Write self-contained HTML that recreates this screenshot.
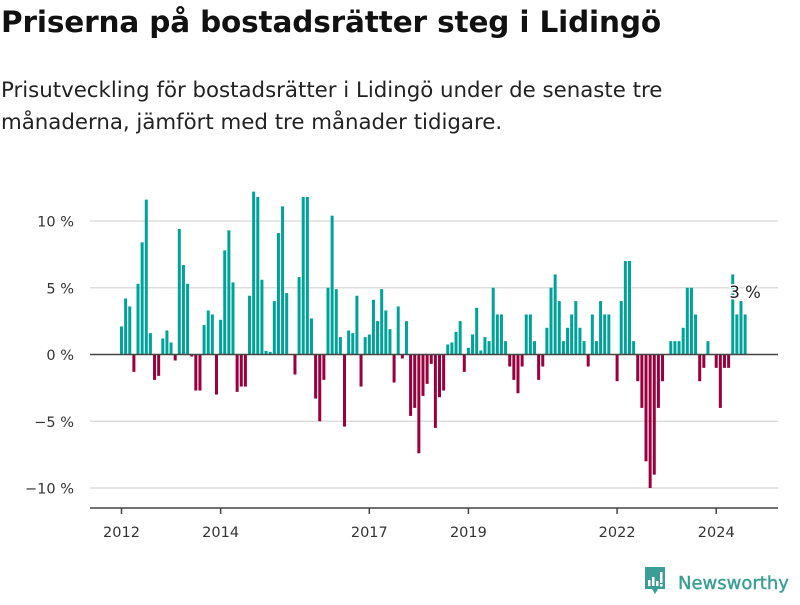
<!DOCTYPE html>
<html><head><meta charset="utf-8">
<style>
body{margin:0;background:#fff;font-family:"DejaVu Sans","Liberation Sans",sans-serif;}
#wrap{position:relative;width:800px;height:600px;overflow:hidden;}
h1{position:absolute;left:1px;top:5px;margin:0;font-size:29.5px;font-weight:bold;color:#111;letter-spacing:-0.15px;white-space:nowrap;}
p.sub{position:absolute;left:1px;top:75px;margin:0;font-size:21.3px;line-height:32px;color:#222;width:700px;}
svg{position:absolute;left:0;top:0;}
</style></head><body>
<div id="wrap">
<h1>Priserna på bostadsrätter steg i Lidingö</h1>
<p class="sub">Prisutveckling för bostadsrätter i Lidingö under de senaste tre månaderna, jämfört med tre månader tidigare.</p>
<svg id="chart" width="800" height="600"></svg>
</div>
<script>
const startYear = 2012;
const values = [2.1,4.2,3.6,-1.3,5.3,8.4,11.6,1.6,-1.9,-1.6,1.2,1.8,0.9,-0.45,9.4,6.7,5.3,-0.15,-2.7,-2.7,2.2,3.3,3.0,-3.0,2.6,7.8,9.3,5.4,-2.8,-2.4,-2.4,4.4,12.2,11.8,5.6,0.27,0.2,4.0,
9.1,11.1,4.6,0,-1.5,5.8,11.8,11.8,2.7,-3.3,-5.0,-1.9,5.0,10.4,4.9,1.3,-5.4,1.8,1.6,4.4,-2.4,1.3,1.5,4.1,2.5,4.9,3.3,1.9,-2.1,3.6,-0.3,2.5,-4.6,-4.0,-7.4,-3.1,-2.2,-0.7,
-5.5,-3.2,-2.7,0.75,0.9,1.7,2.5,-1.3,0.5,1.5,3.5,0.3,1.3,1.0,5.0,3.0,3.0,1.0,-0.9,-1.9,-2.9,-0.9,3,3,1,-1.9,-0.9,2,5,6,4,1,2,3,4,2,1,-0.9,3,1,
4,3,3,0,-2,4,7,7,1,-2,-4,-8,-10,-9,-4,-2,0,1,1,1,2,5,5,3,-2,-1,1,0,-1,-4,-1,-1,6,3,4,3];
const yTicks = [10,5,0,-5,-10];
const yTickLabels = ["10 %","5 %","0 %","−5 %","−10 %"];
const xTickYears = [2012,2014,2017,2019,2022,2024];
const lastLabel = "3 %";

const NS="http://www.w3.org/2000/svg";
const FONT='DejaVu Sans, Liberation Sans, sans-serif';
const svg=document.getElementById('chart');
function y(v){return 354.5-v*13.35;}
function x(i){return 121.5+i*4.13;}
function xYear(yr){return x((yr-startYear)*12);}
function mk(tag,attrs){const e=document.createElementNS(NS,tag);for(const k in attrs)e.setAttribute(k,attrs[k]);svg.appendChild(e);return e;}

yTicks.forEach((t,i)=>{
  if(t!==0){const g=mk('line',{x1:90,x2:778,y1:y(t),y2:y(t),stroke:'#dddddd','stroke-width':1.5});
  
  }
  const tx=mk('text',{x:74,y:y(t)+5.5,'text-anchor':'end','font-size':14.5,fill:'#333','font-family':FONT});
  tx.textContent=yTickLabels[i];
  
  
});
values.forEach((v,i)=>{
  const r=mk('rect',{x:x(i)-1.5,width:3,y:Math.min(y(v),y(0)),height:Math.abs(y(v)-y(0)),fill:v>=0?'#00a39a':'#99003d'});
  
  
});
const zl=mk('line',{x1:90,x2:778,y1:y(0),y2:y(0),stroke:'#444','stroke-width':1.5});


const xa=mk('line',{x1:90,x2:778,y1:508,y2:508,stroke:'#444','stroke-width':1.5});


xTickYears.forEach(yr=>{
  const t=mk('line',{x1:xYear(yr),x2:xYear(yr),y1:508,y2:514,stroke:'#444','stroke-width':1.5});
  
  
  const l=mk('text',{x:xYear(yr),y:537,'text-anchor':'middle','font-size':14.5,fill:'#333','font-family':FONT});
  l.textContent=yr;
  
  
});
const ll=mk('text',{x:x(values.length-1),y:298,'text-anchor':'middle','font-size':16.5,fill:'#222',stroke:'#fff','stroke-width':3,'paint-order':'stroke','font-family':FONT});
ll.textContent=lastLabel;


</script>
<svg width="160" height="40" style="left:640px;top:565px">
<path d="M5 2h20v22h-7l-3 5-3-5H5z" fill="#3a9e96"/>
<rect x="8" y="15" width="2.5" height="6" fill="#fff"/><rect x="12" y="12" width="2.5" height="9" fill="#fff"/><rect x="16" y="16" width="2.5" height="5" fill="#fff"/><rect x="20" y="7" width="2.5" height="11" fill="#fff"/><rect x="20" y="19" width="2.5" height="2.5" fill="#fff"/>
<text x="38" y="24" font-size="18" font-family="DejaVu Sans, sans-serif" fill="#3a9e96" stroke="#3a9e96" stroke-width="0.4">Newsworthy</text>
</svg>
</body></html>
